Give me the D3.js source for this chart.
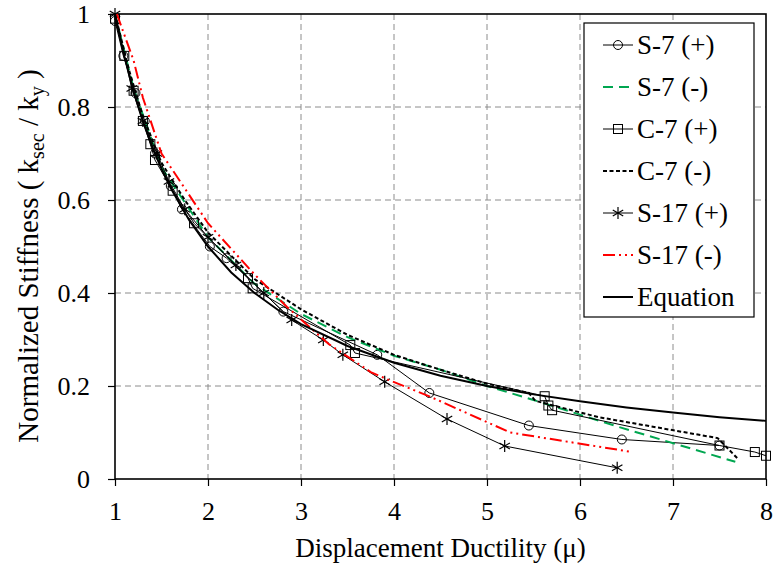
<!DOCTYPE html>
<html><head><meta charset="utf-8">
<script src="https://cdn.jsdelivr.net/npm/d3@7"></script>
<style>
body{margin:0;background:#fff;}
svg{display:block;}
</style></head>
<body><svg id="c" width="773" height="569"></svg>
<script>
// ---- data ----
const xTicks = [1,2,3,4,5,6,7,8];
const yTicks = [0,0.2,0.4,0.6,0.8,1];
const yTickLabels = ["0","0.2","0.4","0.6","0.8","1"];
const seriesNames = ["S-7 (+)","S-7 (-)","C-7 (+)","C-7 (-)","S-17 (+)","S-17 (-)","Equation"];

const s7pMu = [1.0,1.09,1.22,1.32,1.43,1.6,1.72,2.02,2.2,2.81,3.82,4.38,5.45,6.45,7.5];
const s7pK  = [0.985,0.91,0.83,0.77,0.70,0.63,0.58,0.50,0.475,0.36,0.267,0.185,0.115,0.085,0.072];

const s7nMu = [1.0,1.2,1.5,2.0,2.5,3.0,3.5,4.0,4.5,5.0,5.5,6.4,7.67];
const s7nK  = [1.0,0.84,0.67,0.52,0.42,0.355,0.305,0.265,0.235,0.2,0.17,0.113,0.037];

const c7pMu = [1.0,1.1,1.2,1.3,1.38,1.43,1.62,1.85,2.43,2.48,3.53,3.58,5.62,5.66,5.7,7.5,7.88,8.0];
const c7pK  = [0.99,0.91,0.835,0.77,0.72,0.686,0.62,0.55,0.432,0.41,0.288,0.271,0.178,0.158,0.148,0.072,0.058,0.05];

const c7nMu = [1.0,1.15,1.3,1.5,1.75,2.0,2.5,3.0,3.5,4.0,4.5,5.0,5.45,5.52,6.2,7.48,7.69];
const c7nK  = [1.0,0.88,0.78,0.68,0.6,0.53,0.43,0.365,0.31,0.267,0.235,0.205,0.185,0.168,0.133,0.088,0.045];

const s17pMu = [1.0,1.18,1.3,1.45,1.58,1.75,2.0,2.3,2.6,2.9,3.24,3.45,3.9,4.57,5.19,6.4];
const s17pK  = [1.0,0.84,0.77,0.7,0.64,0.58,0.52,0.46,0.4,0.342,0.299,0.267,0.209,0.129,0.071,0.024];

const s17nMu = [1.02,1.2,1.3,1.5,2.0,2.5,2.85,3.3,3.75,3.92,4.4,5.25,6.56];
const s17nK  = [1.0,0.9,0.82,0.7,0.55,0.44,0.37,0.29,0.23,0.215,0.176,0.1,0.058];

const eqMu = [1,1.1,1.2,1.3,1.4,1.5,1.6,1.8,2,2.25,2.5,2.75,3,3.5,4,4.5,5,5.5,6,6.5,7,7.5,8];
const eqK  = [1,0.909,0.833,0.769,0.714,0.667,0.625,0.556,0.5,0.444,0.4,0.364,0.333,0.286,0.25,0.222,0.2,0.182,0.167,0.154,0.143,0.133,0.125];

// ---- drawing ----
const FONT = "Liberation Serif";
const svg = d3.select("#c");
const L=115,R=766,T=14,B=479;
const x = d3.scaleLinear().domain([1,8]).range([L,R]);
const y = d3.scaleLinear().domain([0,1]).range([B,T]);

// grid
const g = svg.append("g");
g.selectAll(".gx").data(xTicks.slice(1,-1)).join("line")
  .attr("x1",d=>x(d)).attr("x2",d=>x(d)).attr("y1",T).attr("y2",B)
  .attr("stroke","#8c8c8c").attr("stroke-width",1).attr("stroke-dasharray","6,4");
g.selectAll(".gy").data(yTicks.slice(1,-1)).join("line")
  .attr("x1",L).attr("x2",R).attr("y1",d=>y(d)).attr("y2",d=>y(d))
  .attr("stroke","#8c8c8c").attr("stroke-width",1).attr("stroke-dasharray","6,4");

// axes
const xAxis = svg.append("g").attr("transform",`translate(0,${B})`)
  .call(d3.axisBottom(x).tickValues(xTicks).tickSize(7).tickPadding(16).tickFormat(d3.format("d")));
const yAxis = svg.append("g").attr("transform",`translate(${L},0)`)
  .call(d3.axisLeft(y).tickValues(yTicks).tickSize(7).tickPadding(18).tickFormat((d,i)=>yTickLabels[i]));
[xAxis,yAxis].forEach(a=>{
  a.select(".domain").remove();
  a.selectAll("line").attr("stroke","#000").attr("stroke-width",1.2);
  a.selectAll("text").attr("font-size",26).attr("fill","#000").style("font-family",FONT);
});
// frame
svg.append("rect").attr("x",L).attr("y",T).attr("width",R-L).attr("height",B-T)
  .attr("fill","none").attr("stroke","#000").attr("stroke-width",1.6);

// series
const line = d3.line().x(d=>x(d[0])).y(d=>y(d[1]));
const zip = (a,b)=>a.map((v,i)=>[v,b[i]]);
const series = [
  {name:seriesNames[0], data:zip(s7pMu,s7pK), color:"#000", dash:null, w:1, marker:"circle"},
  {name:seriesNames[1], data:zip(s7nMu,s7nK), color:"#00a650", dash:"10,6", w:2, marker:null},
  {name:seriesNames[2], data:zip(c7pMu,c7pK), color:"#000", dash:null, w:1, marker:"square"},
  {name:seriesNames[3], data:zip(c7nMu,c7nK), color:"#000", dash:"4,2.5", w:2, marker:null},
  {name:seriesNames[4], data:zip(s17pMu,s17pK), color:"#000", dash:null, w:1, marker:"star"},
  {name:seriesNames[5], data:zip(s17nMu,s17nK), color:"#ff0000", dash:"12,4,2,4,2,4", w:2, marker:null},
  {name:seriesNames[6], data:zip(eqMu,eqK), color:"#000", dash:null, w:2, marker:null}
];
const plot = svg.append("g");
function drawMarker(sel, type, cx, cy){
  if(type==="circle"){
    sel.append("circle").attr("cx",cx).attr("cy",cy).attr("r",4.5)
      .attr("fill","none").attr("stroke","#000").attr("stroke-width",1);
  } else if(type==="square"){
    sel.append("rect").attr("x",cx-4.5).attr("y",cy-4.5).attr("width",9).attr("height",9)
      .attr("fill","none").attr("stroke","#000").attr("stroke-width",1);
  } else if(type==="star"){
    const r=6;
    [[0,-r,0,r],[-r*0.87,-r*0.5,r*0.87,r*0.5],[-r*0.87,r*0.5,r*0.87,-r*0.5]].forEach(s=>{
      sel.append("line").attr("x1",cx+s[0]).attr("y1",cy+s[1]).attr("x2",cx+s[2]).attr("y2",cy+s[3])
        .attr("stroke","#000").attr("stroke-width",1.2);
    });
  }
}
series.forEach(s=>{
  plot.append("path").attr("d",line(s.data)).attr("fill","none")
    .attr("stroke",s.color).attr("stroke-width",s.w)
    .attr("stroke-dasharray",s.dash);
  if(s.marker){
    const mg = plot.append("g");
    s.data.forEach(d=>drawMarker(mg,s.marker,x(d[0]),y(d[1])));
  }
});

// legend
const lg = svg.append("g");
lg.append("rect").attr("x",584).attr("y",23).attr("width",170).attr("height",294)
  .attr("fill","#fff").attr("stroke","#000").attr("stroke-width",1.2);
series.forEach((s,i)=>{
  const yy = 45 + i*42;
  lg.append("line").attr("x1",603).attr("x2",633).attr("y1",yy).attr("y2",yy)
    .attr("stroke",s.color).attr("stroke-width",s.w).attr("stroke-dasharray",s.dash);
  if(s.marker) drawMarker(lg,s.marker,618,yy);
  lg.append("text").attr("x",637).attr("y",yy).attr("dy","0.35em")
    .attr("font-size",27).style("font-family",FONT).text(s.name);
});

// axis titles
svg.append("text").attr("x",(L+R)/2).attr("y",557).attr("text-anchor","middle")
  .style("font-family",FONT).attr("font-size",27).text("Displacement Ductility (μ)");
const yl = svg.append("text").attr("transform","translate(38,256) rotate(-90)")
  .attr("text-anchor","middle").style("font-family",FONT).attr("font-size",29);
yl.append("tspan").text("Normalized Stiffness ( k");
yl.append("tspan").attr("font-size",20).attr("dy",6).text("sec");
yl.append("tspan").attr("dy",-6).text(" / k");
yl.append("tspan").attr("font-size",20).attr("dy",6).text("y");
yl.append("tspan").attr("dy",-6).text(" )");
</script></body></html>
